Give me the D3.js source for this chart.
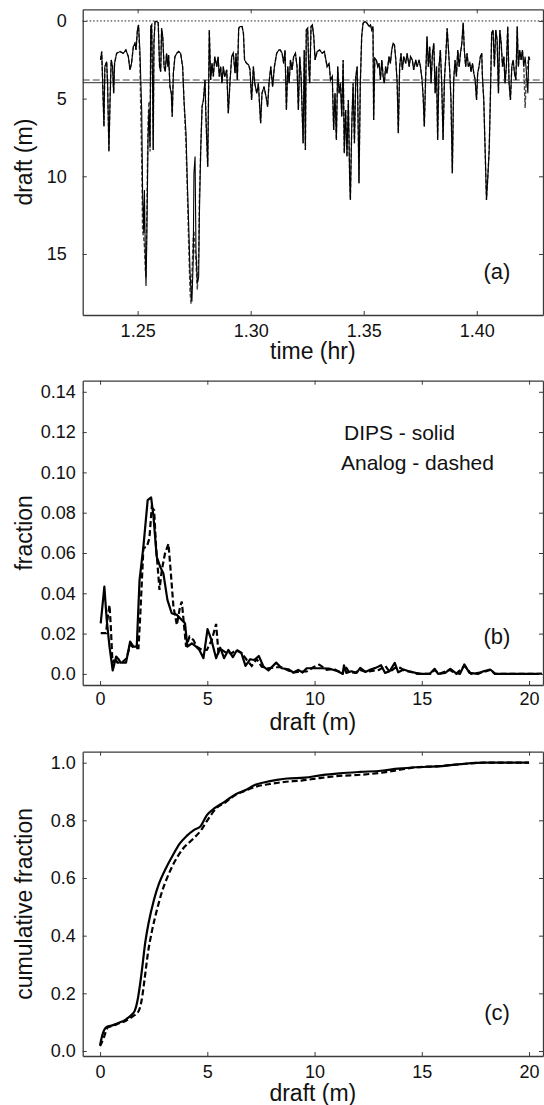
<!DOCTYPE html>
<html>
<head>
<meta charset="utf-8">
<script src="https://cdn.jsdelivr.net/npm/d3@7"></script>
<style>
  body { margin: 0; background: #fff; }
  svg text { font-family: "Liberation Sans", Arial, Helvetica, sans-serif; fill: #111; }
</style>
</head>
<body>
<div id="chart"></div>
<script>
// ---- panel (a): draft time series ----
const timeHr = [
  1.2336,1.2341,1.2345,1.2351,1.2355,1.2363,1.2367,1.2373,1.2378,1.2383,1.2389,1.2394,1.2398,1.2407,1.2422,1.2437,
  1.2448,1.2459,1.2466,1.2473,1.2481,1.2488,1.2493,1.2499,1.2504,1.2510,1.2518,1.2522,1.2527,1.2530,1.2534,1.2537,
  1.2541,1.2546,1.2550,1.2555,1.2558,1.2562,1.2566,1.2569,1.2572,1.2577,1.2584,1.2591,1.2597,1.2602,1.2606,1.2611,
  1.2617,1.2622,1.2628,1.2634,1.2637,1.2643,1.2649,1.2653,1.2658,1.2665,1.2673,1.2681,1.2690,1.2699,1.2705,1.2714,
  1.2720,1.2726,1.2732,1.2736,1.2740,1.2746,1.2749,1.2754,1.2758,1.2764,1.2770,1.2773,1.2779,1.2785,1.2791,1.2798,
  1.2802,1.2810,1.2817,1.2823,1.2829,1.2835,1.2841,1.2850,1.2856,1.2861,1.2867,1.2873,1.2879,1.2885,1.2894,1.2901,
  1.2909,1.2916,1.2923,1.2931,1.2935,1.2941,1.2947,1.2953,1.2962,1.2968,1.2973,1.2982,1.2991,1.2997,1.3004,1.3012,
  1.3018,1.3027,1.3034,1.3044,1.3050,1.3059,1.3068,1.3075,1.3081,1.3089,1.3097,1.3105,1.3115,1.3125,
  1.3131,1.3139,1.3146,1.3152,1.3158,1.3164,1.3170,1.3176,1.3183,1.3190,1.3198,1.3205,1.3211,1.3217,1.3223,1.3232,
  1.3237,1.3242,1.3246,1.3252,1.3257,1.3261,1.3267,1.3273,1.3279,1.3285,1.3294,1.3305,1.3316,1.3326,1.3338,1.3347,
  1.3353,1.3361,1.3367,1.3373,1.3379,1.3385,1.3391,1.3397,1.3403,1.3409,1.3414,1.3420,1.3426,1.3432,1.3438,1.3441,
  1.3447,1.3453,1.3459,1.3465,1.3471,1.3476,1.3479,1.3485,1.3491,1.3497,1.3506,1.3515,1.3524,1.3530,1.3535,1.3541,
  1.3544,1.3549,1.3556,1.3562,1.3568,1.3574,1.3580,1.3586,1.3591,1.3597,1.3603,1.3612,1.3618,1.3624,1.3630,1.3636,
  1.3642,1.3648,1.3653,1.3659,1.3665,1.3671,1.3677,1.3686,1.3692,1.3701,1.3707,1.3715,1.3721,1.3730,1.3736,1.3745,
  1.3751,1.3758,1.3763,1.3768,1.3774,1.3780,1.3786,1.3792,1.3798,1.3804,1.3810,1.3816,1.3822,1.3827,1.3833,1.3839,
  1.3845,1.3851,1.3857,1.3863,1.3869,1.3875,1.3881,1.3886,1.3892,1.3898,1.3904,1.3910,1.3916,1.3922,1.3928,1.3934,
  1.3940,1.3945,1.3951,1.3957,1.3963,1.3969,1.3975,1.3981,1.3987,1.3993,1.3999,1.4004,1.4010,1.4016,1.4022,1.4025,
  1.4031,1.4037,1.4043,1.4049,1.4055,1.4060,1.4066,1.4072,1.4078,1.4084,1.4090,1.4096,1.4102,1.4108,1.4114,1.4120,
  1.4125,1.4131,1.4137,1.4143,1.4149,1.4155,1.4161,1.4167,1.4173,1.4179,1.4184,1.4190,1.4196,1.4202,1.4208,1.4214,
  1.4220,1.4226,1.4230,1.4235
];

// DIPS (solid)
const dipsDraft = [
  2.51,1.97,3.80,6.80,2.94,2.62,4.01,8.41,5.09,2.51,2.94,4.66,2.73,2.08,1.97,2.08,
  1.87,2.30,3.15,2.73,1.65,1.44,1.87,0.58,0.26,1.87,5.73,11.09,13.67,10.88,14.96,17.06,
  13.67,7.66,5.73,8.09,0.36,0.26,4.01,8.30,1.44,0.04,0.04,0.11,2.94,3.26,0.47,1.01,
  2.94,3.26,2.08,2.94,2.19,4.23,4.66,6.16,3.37,2.30,2.08,1.97,2.08,2.94,5.09,7.23,
  10.45,13.24,16.24,17.32,18.07,15.39,9.81,8.73,14.74,16.89,16.46,12.60,8.30,5.52,5.09,3.80,
  6.16,9.38,0.58,3.80,2.73,3.58,2.30,2.94,2.30,3.58,2.94,4.01,2.94,3.58,3.15,5.94,
  3.80,2.30,2.08,3.37,2.08,3.80,0.47,0.36,0.36,0.79,2.51,2.73,2.83,3.15,5.09,2.94,
  4.01,4.66,4.01,6.59,4.66,4.23,4.87,5.52,4.01,2.94,4.23,2.94,2.08,1.87,
  1.87,2.08,2.73,1.87,5.73,2.94,4.01,2.51,3.15,2.30,2.08,2.94,5.73,2.30,3.58,7.88,
  1.87,8.30,0.58,0.47,2.94,4.01,0.36,0.26,1.01,2.51,1.97,1.87,2.08,1.97,2.94,2.73,
  3.80,3.58,7.02,4.66,7.66,2.94,4.66,4.01,6.16,2.51,8.52,5.73,8.73,5.09,10.24,11.52,
  6.80,4.01,7.88,3.58,2.94,7.23,10.45,4.01,1.01,0.15,0.04,0.15,0.36,0.26,0.58,0.36,
  6.37,2.40,2.51,2.94,2.73,3.80,2.51,3.58,4.01,2.94,3.37,2.30,2.73,1.87,1.44,1.55,
  2.51,4.01,7.23,2.94,2.08,3.15,2.30,2.73,2.08,2.94,2.30,2.51,3.15,2.51,2.94,2.51,
  2.94,3.80,4.87,6.80,3.58,1.01,2.94,1.65,4.01,2.08,1.44,4.66,2.94,7.66,2.94,1.87,
  4.01,7.66,3.80,2.30,0.47,1.87,3.37,5.09,9.81,3.80,2.51,3.58,1.87,2.94,2.08,1.44,
  0.11,1.87,2.94,2.08,2.94,2.73,3.26,2.73,3.37,3.80,5.09,3.37,2.94,2.30,2.08,3.58,
  5.09,8.30,11.52,10.02,8.30,5.09,0.79,0.58,2.94,0.58,1.22,4.66,0.58,1.44,2.94,2.30,
  4.01,2.94,0.36,4.01,5.09,2.94,2.51,3.37,3.80,0.36,2.94,1.87,2.51,1.87,2.94,2.30,
  3.37,4.66,2.30,2.51
];

// Analog (dashed)
const analogDraft = [
  2.51,1.97,3.80,6.80,2.94,2.62,4.01,8.41,5.09,2.51,2.94,4.66,2.73,2.08,1.97,2.08,
  1.87,2.30,3.15,2.73,1.65,1.44,1.87,0.58,0.26,2.60,9.00,13.50,14.00,14.50,16.00,16.50,
  12.00,6.50,5.20,8.40,0.36,0.26,4.01,8.30,1.44,0.04,0.04,0.11,2.94,3.26,0.47,1.01,
  2.94,3.26,2.08,2.94,2.19,4.23,4.66,6.16,3.37,2.30,2.08,1.97,2.08,2.94,5.09,8.00,
  11.00,14.50,17.50,18.20,16.50,14.00,13.50,14.80,15.50,17.30,15.00,11.50,8.30,5.52,5.09,3.80,
  6.16,9.38,0.58,3.80,2.73,3.58,2.30,2.94,2.30,3.58,2.94,4.01,2.94,3.58,3.15,5.94,
  3.80,2.30,2.08,3.37,2.08,3.80,0.47,0.36,0.36,0.79,2.51,2.73,2.83,3.15,5.09,2.94,
  4.01,4.66,4.01,6.59,4.66,4.23,4.87,5.52,4.01,2.94,4.23,2.94,2.08,1.87,
  1.87,2.08,2.73,1.87,5.73,2.94,4.01,2.51,3.15,2.30,2.08,2.94,5.73,2.30,3.58,7.88,
  1.87,8.30,0.58,0.47,2.94,4.01,0.36,0.26,1.01,2.51,1.97,1.87,2.08,1.97,2.94,2.73,
  3.80,3.58,7.02,4.66,7.66,2.94,4.66,4.01,6.16,2.51,8.52,5.73,8.73,5.09,10.24,11.52,
  6.80,4.01,7.88,3.58,2.94,7.23,10.45,4.01,1.01,0.15,0.04,0.15,0.36,0.26,0.58,0.36,
  6.37,2.40,2.51,2.94,2.73,3.80,2.51,3.58,4.01,2.94,3.37,2.30,2.73,1.87,1.44,1.55,
  2.51,4.01,7.23,2.94,2.08,3.15,2.30,2.73,2.08,2.94,2.30,2.51,3.15,2.51,2.94,2.51,
  2.94,3.80,4.87,6.80,3.58,1.01,2.94,1.65,4.01,2.08,1.44,4.66,2.94,7.66,2.94,1.87,
  4.01,7.66,3.80,2.30,0.47,1.87,3.37,5.09,9.81,3.80,2.51,3.58,1.87,2.94,2.08,1.44,
  0.11,1.87,2.94,2.08,2.94,2.73,3.26,2.73,3.37,3.80,5.09,3.37,2.94,2.30,2.08,3.58,
  5.09,8.30,11.52,10.02,8.30,5.09,0.79,0.58,2.94,0.58,1.22,4.66,0.58,1.44,2.94,2.30,
  4.01,2.94,0.36,4.01,5.09,2.94,2.51,3.37,3.80,0.36,2.94,1.87,2.51,1.87,2.94,5.60,
  3.37,2.73,2.30,2.51
];

const meanDips = 3.97;     // solid reference line
const meanAnalog = 3.80;   // dashed reference line
const timeTicks = [1.25, 1.30, 1.35, 1.40];
const draftTicksA = [0, 5, 10, 15];

// ---- panel (b): draft histogram ----
const histDraftDips = [
  0.03,0.20,0.31,0.44,0.59,0.75,0.86,0.96,1.21,1.40,1.56,1.71,1.84,2.02,2.22,2.38,2.49,2.64,2.80,2.95,
  3.14,3.34,3.58,3.81,3.96,4.07,4.28,4.48,4.63,4.82,5.01,5.19,5.41,5.60,5.78,5.98,6.19,6.37,6.59,6.78,
  7.00,7.18,7.40,7.62,7.85,8.21,8.47,8.78,9.01,9.24,9.44,9.63,9.94,10.26,10.67,11.08,11.32,11.37,11.48,11.72,
  11.96,12.13,12.37,12.61,12.85,13.10,13.29,13.50,13.74,13.90,14.15,14.39,14.71,14.96,15.36,15.60,15.76,16.09,16.33,16.57,
  16.78,16.98,17.22,17.62,17.87,18.19,18.43,20.60
];
const histFracDips = [
  0.0251,0.0433,0.0268,0.0135,0.0017,0.0086,0.0073,0.0056,0.0056,0.0160,0.0135,0.0135,0.0466,0.0632,0.0863,0.0876,0.0780,0.0582,0.0532,0.0500,
  0.0367,0.0301,0.0293,0.0268,0.0251,0.0135,0.0152,0.0135,0.0119,0.0078,0.0222,0.0169,0.0078,0.0130,0.0078,0.0119,0.0083,0.0116,0.0103,0.0040,
  0.0073,0.0069,0.0089,0.0036,0.0017,0.0056,0.0028,0.0023,0.0007,0.0020,0.0007,0.0028,0.0028,0.0028,0.0027,0.0013,0.0000,0.0042,0.0005,0.0013,
  0.0005,0.0030,0.0010,0.0022,0.0030,0.0043,0.0005,0.0013,0.0055,0.0008,0.0022,0.0013,0.0005,0.0000,0.0000,0.0025,0.0000,0.0005,0.0025,0.0005,
  0.0000,0.0047,0.0005,0.0000,0.0013,0.0022,0.0000,0.0000
];
const histDraftAnalog = [
  0.03,0.19,0.28,0.34,0.44,0.50,0.58,0.68,0.81,1.01,1.24,1.40,1.59,1.79,1.87,2.02,2.18,2.30,2.41,2.52,
  2.61,2.77,2.88,3.03,3.19,3.30,3.42,3.58,3.73,3.81,3.92,4.01,4.17,4.35,4.51,4.74,4.98,5.21,5.41,5.52,
  5.68,5.91,6.14,6.37,6.61,6.84,7.07,7.30,7.54,7.85,8.16,8.47,8.78,9.01,9.32,9.63,9.94,10.22,10.57,10.90,
  11.08,11.30,11.42,11.60,11.90,12.10,12.40,12.70,13.00,13.30,13.50,13.75,14.00,14.20,14.50,14.80,15.40,15.60,15.80,16.30,
  16.60,17.00,17.30,17.90,18.20,18.40,20.60
];
const histFracAnalog = [
  0.0202,0.0202,0.0202,0.0268,0.0342,0.0235,0.0053,0.0078,0.0056,0.0056,0.0078,0.0145,0.0128,0.0128,0.0284,0.0624,0.0632,0.0673,0.0826,0.0813,
  0.0632,0.0417,0.0516,0.0600,0.0645,0.0500,0.0334,0.0243,0.0334,0.0359,0.0235,0.0135,0.0185,0.0169,0.0135,0.0119,0.0119,0.0169,0.0248,0.0103,
  0.0119,0.0103,0.0103,0.0119,0.0103,0.0069,0.0040,0.0073,0.0036,0.0028,0.0033,0.0033,0.0017,0.0007,0.0012,0.0012,0.0033,0.0046,0.0020,0.0025,
  0.0015,0.0005,0.0040,0.0010,0.0005,0.0020,0.0010,0.0015,0.0020,0.0040,0.0010,0.0030,0.0030,0.0015,0.0010,0.0000,0.0000,0.0020,0.0000,0.0020,
  0.0000,0.0040,0.0000,0.0010,0.0020,0.0000,0.0000
];
const fracTicks = [0, 0.02, 0.04, 0.06, 0.08, 0.10, 0.12, 0.14];
const draftTicks = [0, 5, 10, 15, 20];

// ---- panel (c): cumulative fraction ----
const cdfDraftDips = [
  0,0.13,0.32,0.57,0.89,1.21,1.46,1.62,1.75,1.86,1.97,2.10,2.26,2.51,2.75,3.07,3.40,3.72,4.04,4.37,
  4.69,4.98,5.34,5.82,6.31,6.79,7.19,7.68,8.25,8.73,9.54,10.35,11.16,12.13,13.10,13.90,14.71,15.84,16.82,17.95,20.0
];
const cdfDips = [
  0.021,0.061,0.084,0.089,0.098,0.110,0.125,0.140,0.177,0.229,0.292,0.373,0.443,0.524,0.581,0.634,0.680,0.720,0.746,0.766,
  0.780,0.818,0.842,0.865,0.890,0.905,0.922,0.932,0.940,0.945,0.948,0.957,0.963,0.968,0.972,0.979,0.984,0.988,0.995,1.000,1.000
];
const cdfDraftAnalog = [
  0,0.16,0.36,0.57,0.89,1.21,1.54,1.78,1.94,2.07,2.23,2.43,2.67,2.91,3.15,3.48,3.88,4.28,4.69,5.01,
  5.42,5.82,6.31,6.79,7.28,7.92,8.57,9.38,10.19,11.16,12.13,13.10,13.90,14.71,15.84,16.82,17.95,20.0
];
const cdfAnalog = [
  0.017,0.044,0.082,0.087,0.096,0.105,0.121,0.136,0.177,0.246,0.339,0.420,0.495,0.558,0.605,0.657,0.703,0.732,0.764,0.801,
  0.842,0.861,0.888,0.903,0.917,0.926,0.933,0.938,0.946,0.954,0.958,0.965,0.974,0.984,0.988,0.995,1.000,1.000
];
const cumTicks = [0, 0.2, 0.4, 0.6, 0.8, 1.0];

const svg = d3.select("#chart")
  .append("svg")
  .attr("width", 544)
  .attr("height", 1105);

const plotLeft = 82.7;
const plotRight = 543;

// Draws a boxed frame with inward ticks on all four sides, labels on bottom/left only
function drawFrame(x, y, xTicks, yTicks, xFormat, yFormat, xPad, yPad) {
  const top = d3.min(y.range());
  const bottom = d3.max(y.range());
  const g = svg.append("g").attr("class", "frame");

  g.append("g")
    .attr("transform", `translate(0,${bottom})`)
    .call(d3.axisBottom(x).tickValues(xTicks).tickFormat(xFormat).tickSize(-4).tickSizeOuter(0).tickPadding(xPad));
  g.append("g")
    .attr("transform", `translate(0,${top})`)
    .call(d3.axisTop(x).tickValues(xTicks).tickFormat("").tickSize(-4).tickSizeOuter(0));
  g.append("g")
    .attr("transform", `translate(${plotLeft},0)`)
    .call(d3.axisLeft(y).tickValues(yTicks).tickFormat(yFormat).tickSize(-4).tickSizeOuter(0).tickPadding(yPad));
  g.append("g")
    .attr("transform", `translate(${plotRight},0)`)
    .call(d3.axisRight(y).tickValues(yTicks).tickFormat("").tickSize(-4).tickSizeOuter(0));

  g.selectAll("path.domain").attr("stroke", "#3a3a3a").attr("stroke-width", 1.3);
  g.selectAll(".tick line").attr("stroke", "#3a3a3a");
  g.selectAll(".tick text").attr("font-size", 18).attr("fill", "#111")
    .style("font-family", "'Liberation Sans', Arial, sans-serif");
  return g;
}

function axisTitles(xTitle, yTitle, y, xOffset) {
  const top = d3.min(y.range());
  const bottom = d3.max(y.range());
  svg.append("text")
    .attr("x", (plotLeft + plotRight) / 2)
    .attr("y", bottom + xOffset)
    .attr("text-anchor", "middle")
    .attr("font-size", 23)
    .text(xTitle);
  svg.append("text")
    .attr("transform", `translate(24,${(top + bottom) / 2}) rotate(-90)`)
    .attr("dy", "0.35em")
    .attr("text-anchor", "middle")
    .attr("font-size", 23)
    .text(yTitle);
}

function panelLabel(txt, yPos) {
  svg.append("text")
    .attr("x", 497)
    .attr("y", yPos)
    .attr("text-anchor", "middle")
    .attr("font-size", 22)
    .text(txt);
}

// Panel (a)
function drawPanelA() {
  const x = d3.scaleLinear().domain([1.2257, 1.4293]).range([plotLeft, plotRight]);
  const y = d3.scaleLinear().domain([-0.75, 18.93]).range([9.3, 315]);

  // zero-draft dotted line and the two mean lines
  svg.append("line")
    .attr("x1", plotLeft).attr("x2", plotRight)
    .attr("y1", y(0)).attr("y2", y(0))
    .attr("stroke", "#000").attr("stroke-width", 0.9).attr("stroke-dasharray", "1.5,2");
  svg.append("line")
    .attr("x1", plotLeft).attr("x2", plotRight)
    .attr("y1", y(meanAnalog)).attr("y2", y(meanAnalog))
    .attr("stroke", "#444").attr("stroke-width", 1.1).attr("stroke-dasharray", "7,3");
  svg.append("line")
    .attr("x1", plotLeft).attr("x2", plotRight)
    .attr("y1", y(meanDips)).attr("y2", y(meanDips))
    .attr("stroke", "#555").attr("stroke-width", 1.3);

  const line = d3.line().x(d => x(d[0])).y(d => y(d[1]));

  svg.append("path")
    .datum(timeHr.map((t, i) => [t, analogDraft[i]]))
    .attr("fill", "none")
    .attr("stroke", "#444")
    .attr("stroke-width", 1.4)
    .attr("stroke-dasharray", "4,2")
    .attr("d", line);

  svg.append("path")
    .datum(timeHr.map((t, i) => [t, dipsDraft[i]]))
    .attr("fill", "none")
    .attr("stroke", "#000")
    .attr("stroke-width", 1.1)
    .attr("d", line);

  drawFrame(x, y, timeTicks, draftTicksA, d3.format(".2f"), d3.format("d"), 9, 16);
  axisTitles("time (hr)", "draft (m)", y, 44);
  panelLabel("(a)", 279);
}

// Panel (b)
function drawPanelB() {
  const x = d3.scaleLinear().domain([-0.81, 20.65]).range([plotLeft, plotRight]);
  const y = d3.scaleLinear().domain([-0.0055, 0.1455]).range([685, 380.7]);
  const line = d3.line().x(d => x(d[0])).y(d => y(d[1]));

  svg.append("path")
    .datum(histDraftAnalog.map((v, i) => [v, histFracAnalog[i]]))
    .attr("fill", "none")
    .attr("stroke", "#000")
    .attr("stroke-width", 2.2)
    .attr("stroke-dasharray", "6,3")
    .attr("d", line);

  svg.append("path")
    .datum(histDraftDips.map((v, i) => [v, histFracDips[i]]))
    .attr("fill", "none")
    .attr("stroke", "#000")
    .attr("stroke-width", 2.2)
    .attr("stroke-linejoin", "round")
    .attr("d", line);

  drawFrame(x, y, draftTicks, fracTicks, d3.format("d"), d => d === 0 ? "0.0" : d3.format(".2f")(d), 7, 7);
  axisTitles("draft (m)", "fraction", y, 45);

  svg.append("text").attr("x", 344).attr("y", 440).attr("font-size", 21).text("DIPS - solid");
  svg.append("text").attr("x", 341).attr("y", 470).attr("font-size", 21).text("Analog - dashed");
  panelLabel("(b)", 644);
}

// Panel (c)
function drawPanelC() {
  const x = d3.scaleLinear().domain([-0.81, 20.65]).range([plotLeft, plotRight]);
  const y = d3.scaleLinear().domain([-0.0173, 1.038]).range([1056, 751.7]);
  const line = d3.line().x(d => x(d[0])).y(d => y(d[1])).curve(d3.curveMonotoneX);

  svg.append("path")
    .datum(cdfDraftAnalog.map((v, i) => [v, cdfAnalog[i]]))
    .attr("fill", "none")
    .attr("stroke", "#000")
    .attr("stroke-width", 2.2)
    .attr("stroke-dasharray", "6,3")
    .attr("d", line);

  svg.append("path")
    .datum(cdfDraftDips.map((v, i) => [v, cdfDips[i]]))
    .attr("fill", "none")
    .attr("stroke", "#000")
    .attr("stroke-width", 2.2)
    .attr("d", line);

  drawFrame(x, y, draftTicks, cumTicks, d3.format("d"), d3.format(".1f"), 9, 7);
  axisTitles("draft (m)", "cumulative fraction", y, 45);
  panelLabel("(c)", 1020);
}

drawPanelA();
drawPanelB();
drawPanelC();
</script>
</body>
</html>
